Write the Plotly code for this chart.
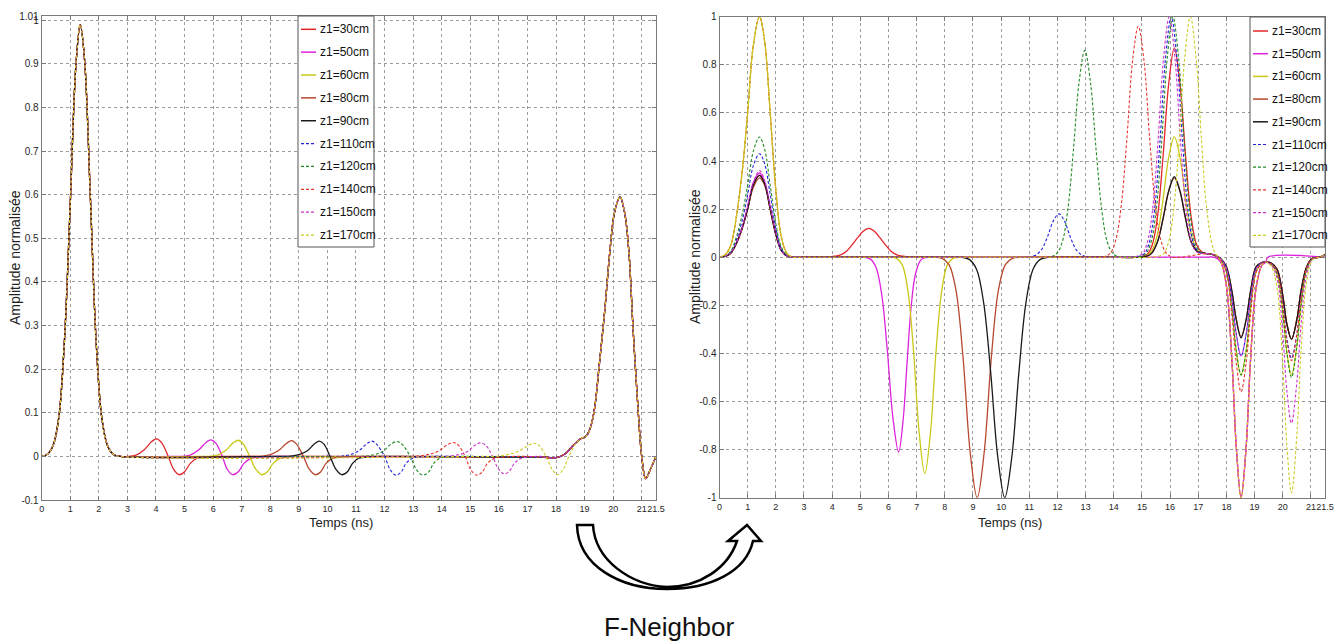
import plotly.graph_objects as go

# ---------------- data ----------------
LABELS = ["z1=30cm", "z1=50cm", "z1=60cm", "z1=80cm", "z1=90cm",
          "z1=110cm", "z1=120cm", "z1=140cm", "z1=150cm", "z1=170cm"]
COLORS = ["#e3262b", "#dd22dd", "#c9c91a", "#b5482e", "#1a1a1a",
          "#2222dd", "#228b22", "#e8352e", "#cc33cc", "#cccc22"]
DASHES = ["solid"] * 5 + ["3px,2px"] * 5

X_TICKS = [0, 1, 2, 3, 4, 5, 6, 7, 8, 9, 10, 11, 12, 13, 14, 15, 16, 17, 18, 19, 20, 21, 21.5]
X_TICK_TEXT = ["0", "1", "2", "3", "4", "5", "6", "7", "8", "9", "10", "11", "12", "13", "14",
               "15", "16", "17", "18", "19", "20", "21", "21.5"]
YL_TICKS = [-0.1, 0, 0.1, 0.2, 0.3, 0.4, 0.5, 0.6, 0.7, 0.8, 0.9, 1, 1.01]
YL_TICK_TEXT = ["-0.1", "0", "0.1", "0.2", "0.3", "0.4", "0.5", "0.6", "0.7", "0.8", "0.9", "1", "1.01"]
YR_TICKS = [-1, -0.8, -0.6, -0.4, -0.2, 0, 0.2, 0.4, 0.6, 0.8, 1]
YR_TICK_TEXT = ["-1", "-0.8", "-0.6", "-0.4", "-0.2", "0", "0.2", "0.4", "0.6", "0.8", "1"]

# ---- left panel (before F-Neighbor) ----
T_L_HEAD = [0, 0.2, 0.4, 0.6, 0.8, 1.0, 1.2, 1.35, 1.5, 1.7, 1.9, 2.1, 2.3, 2.5, 2.75]
V_L_HEAD = [0, 0.005, 0.025, 0.09, 0.27, 0.58, 0.9, 0.99, 0.91, 0.6, 0.27, 0.09, 0.025, 0.005, 0]
T_L_TAIL = [17.6, 18.0, 18.3, 18.6, 18.85, 19.05, 19.2, 19.35, 19.5, 19.7, 19.9, 20.05, 20.24,
            20.4, 20.55, 20.7, 20.88, 21.0, 21.14, 21.3, 21.5]
V_L_TAIL = [-0.002, -0.003, 0.005, 0.025, 0.04, 0.046, 0.065, 0.11, 0.2, 0.33, 0.48, 0.56, 0.595,
            0.56, 0.47, 0.29, 0.10, 0.0, -0.051, -0.03, 0.0]

W30_T = [3.0, 3.3, 3.6, 3.85, 4.02, 4.2, 4.43, 4.62, 4.8, 5.0, 5.2, 5.45, 5.8, 6.2, 6.55]
W30_V = [0, 0.003, 0.016, 0.034, 0.040, 0.031, 0, -0.030, -0.042, -0.035, -0.016, -0.004, -0.002, 0, 0]
W50_T = [4.5, 4.85, 5.2, 5.5, 5.75, 5.93, 6.1, 6.32, 6.5, 6.68, 6.88, 7.08, 7.35, 7.7, 8.1, 8.45]
W50_V = [0, 0, 0.003, 0.015, 0.032, 0.038, 0.030, 0, -0.030, -0.042, -0.035, -0.016, -0.004, -0.001, 0, 0]
W60_T = [5.45, 5.8, 6.15, 6.45, 6.7, 6.88, 7.05, 7.28, 7.5, 7.7, 7.9, 8.1, 8.35, 8.7, 9.1, 9.45]
W60_V = [0, 0, 0.003, 0.014, 0.031, 0.037, 0.029, 0, -0.030, -0.042, -0.035, -0.016, -0.004, -0.001, 0, 0]
W80_T = [7.25, 7.6, 8.0, 8.3, 8.57, 8.75, 8.92, 9.16, 9.37, 9.57, 9.77, 9.95, 10.2, 10.55, 11.0, 11.35]
W80_V = [0, 0, 0.004, 0.014, 0.030, 0.036, 0.028, 0, -0.030, -0.042, -0.035, -0.016, -0.004, -0.001, 0, 0]
W90_T = [8.25, 8.6, 9.0, 9.3, 9.55, 9.72, 9.88, 10.09, 10.3, 10.5, 10.7, 10.88, 11.1, 11.45, 11.9, 12.25]
W90_V = [0, 0, 0.004, 0.013, 0.029, 0.035, 0.028, 0, -0.030, -0.042, -0.035, -0.016, -0.004, -0.001, 0, 0]
W110_T = [10.05, 10.4, 10.8, 11.1, 11.38, 11.55, 11.72, 12.0, 12.2, 12.39, 12.58, 12.75, 13.0, 13.35, 13.8, 14.15]
W110_V = [0, 0, 0.004, 0.013, 0.029, 0.035, 0.028, 0, -0.031, -0.043, -0.036, -0.016, -0.004, -0.001, 0, 0]
W120_T = [10.85, 11.2, 11.65, 11.95, 12.22, 12.43, 12.62, 12.9, 13.12, 13.34, 13.54, 13.72, 13.95, 14.3, 14.7, 15.05]
W120_V = [0, 0, 0.004, 0.012, 0.028, 0.034, 0.027, 0, -0.031, -0.043, -0.036, -0.016, -0.004, -0.001, 0, 0]
W140_T = [12.65, 13.0, 13.5, 13.85, 14.18, 14.4, 14.58, 14.82, 15.02, 15.22, 15.42, 15.6, 15.85, 16.2, 16.6, 16.95]
W140_V = [0, 0, 0.004, 0.011, 0.026, 0.032, 0.026, 0, -0.031, -0.043, -0.036, -0.016, -0.004, -0.001, 0, 0]
W150_T = [13.85, 14.2, 14.6, 14.9, 15.15, 15.35, 15.55, 15.78, 15.98, 16.19, 16.38, 16.55, 16.8, 17.1, 17.45]
W150_V = [0, 0, 0.004, 0.011, 0.025, 0.031, 0.025, 0, -0.028, -0.040, -0.033, -0.015, -0.004, -0.001, 0]
W170_T = [15.45, 15.8, 16.3, 16.7, 17.0, 17.23, 17.42, 17.65, 17.85, 18.05, 18.25, 18.45, 18.7, 18.9, 19.05]
W170_V = [0, 0, 0.004, 0.012, 0.024, 0.030, 0.024, 0, -0.028, -0.042, -0.030, 0, 0.030, 0.042, 0.046]

# ---- right panel (after F-Neighbor) ----
T_R_HEAD = [0, 0.2, 0.4, 0.6, 0.8, 1.0, 1.2, 1.42, 1.6, 1.8, 2.0, 2.2, 2.4, 2.6, 2.9]
H_30 = [0, 0.003, 0.017, 0.058, 0.12, 0.2, 0.3, 0.34, 0.306, 0.2, 0.095, 0.027, 0.005, 0, 0]
H_50 = [0, 0.004, 0.018, 0.06, 0.12, 0.21, 0.31, 0.35, 0.315, 0.21, 0.1, 0.028, 0.005, 0, 0]
H_60 = [0, 0.01, 0.05, 0.17, 0.35, 0.6, 0.88, 1.0, 0.9, 0.6, 0.28, 0.08, 0.015, 0, 0]
H_80 = [0, 0.003, 0.016, 0.056, 0.115, 0.2, 0.29, 0.33, 0.3, 0.2, 0.092, 0.026, 0.005, 0, 0]
H_90 = [0, 0.003, 0.017, 0.058, 0.12, 0.2, 0.3, 0.34, 0.306, 0.2, 0.095, 0.027, 0.005, 0, 0]
H_110 = [0, 0.004, 0.021, 0.073, 0.15, 0.26, 0.38, 0.43, 0.39, 0.26, 0.12, 0.034, 0.006, 0, 0]
H_120 = [0, 0.005, 0.025, 0.085, 0.175, 0.3, 0.44, 0.5, 0.45, 0.3, 0.14, 0.04, 0.008, 0, 0]
H_140 = [0, 0.01, 0.05, 0.17, 0.35, 0.6, 0.88, 1.0, 0.9, 0.6, 0.28, 0.08, 0.015, 0, 0]
H_150 = [0, 0.004, 0.018, 0.06, 0.12, 0.21, 0.31, 0.36, 0.32, 0.21, 0.1, 0.028, 0.005, 0, 0]
H_170 = [0, 0.01, 0.05, 0.17, 0.35, 0.6, 0.88, 1.0, 0.9, 0.6, 0.28, 0.08, 0.015, 0, 0]

# target echoes
E30_T = [3.5, 3.8, 4.1, 4.3, 4.5, 4.7, 4.9, 5.1, 5.3, 5.5, 5.7, 5.9, 6.1, 6.3, 6.5, 6.8, 7.1]
E30_V = [0, 0, 0.004, 0.01, 0.024, 0.05, 0.08, 0.108, 0.12, 0.108, 0.08, 0.05, 0.024, 0.01, 0.004, 0, 0]
E50_T = [4.86, 5.16, 5.36, 5.56, 5.76, 5.96, 6.16, 6.36, 6.51, 6.66, 6.81, 6.96, 7.16, 7.4, 7.7]
E50_V = [0, 0, -0.008, -0.043, -0.155, -0.39, -0.67, -0.81, -0.69, -0.44, -0.2, -0.07, -0.01, 0, 0]
E60_T = [5.7, 6.0, 6.29, 6.49, 6.69, 6.89, 7.09, 7.29, 7.49, 7.69, 7.89, 8.09, 8.29, 8.6, 8.9]
E60_V = [0, 0, -0.005, -0.032, -0.14, -0.39, -0.73, -0.9, -0.73, -0.39, -0.14, -0.032, -0.005, 0, 0]
E80_T = [7.3, 7.6, 7.9, 8.15, 8.4, 8.65, 8.9, 9.15, 9.4, 9.65, 9.9, 10.15, 10.4, 10.7, 11.0]
E80_V = [0, 0, -0.005, -0.031, -0.14, -0.42, -0.81, -1.0, -0.81, -0.42, -0.14, -0.031, -0.005, 0, 0]
E90_T = [8.3, 8.6, 8.88, 9.13, 9.38, 9.63, 9.88, 10.13, 10.38, 10.63, 10.88, 11.13, 11.38, 11.7, 12.0]
E90_V = [0, 0, -0.01, -0.051, -0.19, -0.48, -0.83, -1.0, -0.83, -0.48, -0.19, -0.051, -0.01, 0, 0]
E110_T = [10.5, 10.8, 11.05, 11.25, 11.45, 11.65, 11.85, 12.05, 12.25, 12.45, 12.65, 12.85, 13.05, 13.3, 13.6]
E110_V = [0, 0, 0.002, 0.01, 0.034, 0.086, 0.15, 0.18, 0.15, 0.086, 0.034, 0.01, 0.002, 0, 0]
E120_T = [11.4, 11.7, 11.97, 12.17, 12.37, 12.57, 12.77, 12.97, 13.17, 13.37, 13.57, 13.77, 13.97, 14.2, 14.45]
E120_V = [0, 0, 0.015, 0.063, 0.2, 0.45, 0.73, 0.86, 0.73, 0.45, 0.2, 0.063, 0.015, 0, 0]
E140_T = [13.3, 13.6, 13.87, 14.07, 14.27, 14.47, 14.67, 14.87, 15.07, 15.27, 15.47, 15.67, 15.87, 16.1, 16.4]
E140_V = [0, 0, 0.016, 0.071, 0.22, 0.5, 0.82, 0.96, 0.82, 0.5, 0.22, 0.071, 0.016, 0, 0]

# late positive echoes near 16 ns
P30_T = [13.6, 13.9, 15.15, 15.35, 15.55, 15.75, 15.95, 16.15, 16.35, 16.55, 16.75, 16.95, 17.15]
P30_V = [0, 0, 0.009, 0.046, 0.165, 0.42, 0.72, 0.87, 0.72, 0.42, 0.165, 0.05, 0.02]
P60_T = [13.6, 13.9, 15.15, 15.35, 15.55, 15.75, 15.95, 16.15, 16.35, 16.55, 16.75, 16.95, 17.15]
P60_V = [0, 0, 0.005, 0.027, 0.095, 0.24, 0.415, 0.5, 0.415, 0.24, 0.095, 0.03, 0.018]
P80_T = [13.6, 13.9, 15.15, 15.35, 15.55, 15.75, 15.95, 16.15, 16.35, 16.55, 16.75, 16.95, 17.15]
P80_V = [0, 0, 0.003, 0.017, 0.063, 0.16, 0.275, 0.33, 0.275, 0.16, 0.063, 0.025, 0.018]
P90_T = [13.6, 13.9, 15.15, 15.35, 15.55, 15.75, 15.95, 16.15, 16.35, 16.55, 16.75, 16.95, 17.15]
P90_V = [0, 0, 0.003, 0.017, 0.063, 0.16, 0.275, 0.335, 0.275, 0.16, 0.063, 0.025, 0.018]
P110_T = [13.9, 14.2, 15.04, 15.24, 15.44, 15.64, 15.84, 16.04, 16.24, 16.44, 16.64, 16.84, 17.04]
P110_V = [0, 0, 0.01, 0.053, 0.19, 0.48, 0.83, 1.0, 0.83, 0.48, 0.19, 0.055, 0.02]
P120_T = [14.8, 15.1, 15.3, 15.5, 15.7, 15.9, 16.1, 16.3, 16.5, 16.7, 16.9, 17.1]
P120_V = [0, 0.01, 0.053, 0.19, 0.48, 0.83, 1.0, 0.83, 0.48, 0.19, 0.055, 0.02]
P150_T = [13.4, 13.7, 14.97, 15.17, 15.37, 15.57, 15.77, 15.97, 16.17, 16.37, 16.57, 16.77, 16.97]
P150_V = [0, 0, 0.01, 0.053, 0.19, 0.48, 0.83, 1.0, 0.83, 0.48, 0.19, 0.055, 0.02]
P170_T = [14.1, 14.4, 15.72, 15.92, 16.12, 16.32, 16.52, 16.72, 16.92, 17.12]
P170_V = [0, 0, 0.01, 0.053, 0.19, 0.48, 0.83, 1.0, 0.83, 0.48]

# late negative lobes (18.5 ns and 20.3 ns)
T_R_LATE = [17.3, 17.55, 17.8, 18.0, 18.2, 18.35, 18.52, 18.7, 18.85, 19.05, 19.25, 19.4,
            19.6, 19.8, 20.0, 20.15, 20.31, 20.5, 20.65, 20.85, 21.05, 21.3, 21.5]
LATE_30 = [0.015, 0.01, -0.02, -0.12, -0.44, -0.79, -1.0, -0.79, -0.44, -0.13, -0.035, -0.02,
           -0.025, -0.05, -0.16, -0.28, -0.34, -0.26, -0.14, -0.04, -0.005, 0, 0.01]
LATE_60 = [0.015, 0.01, -0.01, -0.06, -0.22, -0.39, -0.49, -0.39, -0.22, -0.06, -0.025, -0.02,
           -0.03, -0.07, -0.23, -0.4, -0.49, -0.37, -0.2, -0.05, -0.006, 0, 0.01]
LATE_80 = [0.015, 0.01, -0.006, -0.04, -0.145, -0.26, -0.33, -0.26, -0.145, -0.04, -0.022, -0.02,
           -0.025, -0.05, -0.16, -0.28, -0.34, -0.26, -0.14, -0.04, -0.005, 0, 0.01]
LATE_90 = [0.015, 0.01, -0.006, -0.04, -0.145, -0.26, -0.335, -0.26, -0.145, -0.04, -0.022, -0.02,
           -0.025, -0.05, -0.16, -0.28, -0.34, -0.26, -0.14, -0.04, -0.005, 0, 0.01]
LATE_110 = [0.015, 0.01, -0.008, -0.047, -0.18, -0.32, -0.41, -0.32, -0.18, -0.05, -0.024, -0.02,
            -0.028, -0.06, -0.19, -0.34, -0.42, -0.32, -0.17, -0.045, -0.006, 0, 0.01]
LATE_120 = [0.015, 0.01, -0.01, -0.06, -0.22, -0.39, -0.49, -0.39, -0.22, -0.06, -0.025, -0.02,
            -0.03, -0.07, -0.23, -0.4, -0.5, -0.37, -0.2, -0.05, -0.006, 0, 0.01]
LATE_140 = [0.015, 0.01, -0.01, -0.065, -0.25, -0.44, -0.56, -0.44, -0.25, -0.065, -0.027, -0.02,
            -0.028, -0.06, -0.2, -0.35, -0.43, -0.32, -0.17, -0.045, -0.006, 0, 0.01]
LATE_150 = [0.015, 0.01, -0.008, -0.047, -0.18, -0.32, -0.41, -0.32, -0.18, -0.05, -0.024, -0.02,
            -0.034, -0.09, -0.32, -0.56, -0.69, -0.52, -0.28, -0.07, -0.009, 0, 0.01]
LATE_170 = [0.2, 0.03, -0.02, -0.12, -0.44, -0.79, -1.0, -0.79, -0.44, -0.13, -0.035, -0.02,
            -0.04, -0.13, -0.45, -0.79, -0.98, -0.74, -0.39, -0.1, -0.012, 0, 0.01]
LATE50_T = [17.3, 17.55, 17.8, 18.0, 18.2, 18.35, 18.52, 18.7, 18.85, 19.05, 19.25, 19.4, 19.47, 21.5]
LATE50_V = [0, 0, -0.02, -0.12, -0.44, -0.79, -1.0, -0.79, -0.44, -0.13, -0.035, -0.02, 0, 0]

# ---------------- assemble series ----------------
TAIL170_T = [t for t in T_L_TAIL if t >= 19.2]
TAIL170_V = [v for t, v in zip(T_L_TAIL, V_L_TAIL) if t >= 19.2]

left_series = [
    (T_L_HEAD + W30_T + T_L_TAIL, V_L_HEAD + W30_V + V_L_TAIL),
    (T_L_HEAD + W50_T + T_L_TAIL, V_L_HEAD + W50_V + V_L_TAIL),
    (T_L_HEAD + W60_T + T_L_TAIL, V_L_HEAD + W60_V + V_L_TAIL),
    (T_L_HEAD + W80_T + T_L_TAIL, V_L_HEAD + W80_V + V_L_TAIL),
    (T_L_HEAD + W90_T + T_L_TAIL, V_L_HEAD + W90_V + V_L_TAIL),
    (T_L_HEAD + W110_T + T_L_TAIL, V_L_HEAD + W110_V + V_L_TAIL),
    (T_L_HEAD + W120_T + T_L_TAIL, V_L_HEAD + W120_V + V_L_TAIL),
    (T_L_HEAD + W140_T + T_L_TAIL, V_L_HEAD + W140_V + V_L_TAIL),
    (T_L_HEAD + W150_T + T_L_TAIL, V_L_HEAD + W150_V + V_L_TAIL),
    (T_L_HEAD + W170_T + TAIL170_T, V_L_HEAD + W170_V + TAIL170_V),
]

right_series = [
    (T_R_HEAD + E30_T + P30_T + T_R_LATE, H_30 + E30_V + P30_V + LATE_30),
    (T_R_HEAD + E50_T + LATE50_T, H_50 + E50_V + LATE50_V),
    (T_R_HEAD + E60_T + P60_T + T_R_LATE, H_60 + E60_V + P60_V + LATE_60),
    (T_R_HEAD + E80_T + P80_T + T_R_LATE, H_80 + E80_V + P80_V + LATE_80),
    (T_R_HEAD + E90_T + P90_T + T_R_LATE, H_90 + E90_V + P90_V + LATE_90),
    (T_R_HEAD + E110_T + P110_T + T_R_LATE, H_110 + E110_V + P110_V + LATE_110),
    (T_R_HEAD + E120_T + P120_T + T_R_LATE, H_120 + E120_V + P120_V + LATE_120),
    (T_R_HEAD + E140_T + T_R_LATE, H_140 + E140_V + LATE_140),
    (T_R_HEAD + P150_T + T_R_LATE, H_150 + P150_V + LATE_150),
    (T_R_HEAD + P170_T + T_R_LATE, H_170 + P170_V + LATE_170),
]

# ---------------- figure ----------------
W, H = 1335, 641


def px(x):
    return x / W


def py(y):
    return 1 - y / H


def P(x, y):
    return f"{px(x):.5f},{py(y):.5f}"


FONT = "Liberation Sans, Arial, sans-serif"

fig = go.Figure()

for i, (t, v) in enumerate(left_series):
    fig.add_trace(go.Scatter(
        x=t, y=v, mode="lines", name=LABELS[i], showlegend=False,
        line=dict(color=COLORS[i], width=1.3 if i < 5 else 1.1, dash=DASHES[i],
                  shape="spline", smoothing=1.0),
        xaxis="x", yaxis="y"))

for i, (t, v) in enumerate(right_series):
    fig.add_trace(go.Scatter(
        x=t, y=v, mode="lines", name=LABELS[i], showlegend=False,
        line=dict(color=COLORS[i], width=1.3 if i < 5 else 1.1, dash=DASHES[i],
                  shape="spline", smoothing=1.0),
        xaxis="x2", yaxis="y2"))

axis_common = dict(
    showgrid=True, gridcolor="#9c9c9c", griddash="dot", gridwidth=1,
    showline=True, mirror="ticks", linecolor="#7a7a7a", linewidth=1,
    ticks="inside", ticklen=4, tickcolor="#7a7a7a", zeroline=False, tickangle=0,
    ticklabeloverflow="allow", automargin=False,
)
XFONT = dict(family=FONT, size=9, color="#262626")
YFONT = dict(family=FONT, size=10, color="#262626")

fig.update_layout(
    width=W, height=H,
    margin=dict(l=0, r=0, t=0, b=0),
    paper_bgcolor="white", plot_bgcolor="white",
    xaxis=dict(domain=[px(41.7), px(656)], range=[0, 21.5], anchor="y", tickfont=XFONT,
               tickmode="array", tickvals=X_TICKS, ticktext=X_TICK_TEXT, **axis_common),
    yaxis=dict(domain=[py(500), py(16)], range=[-0.1, 1.01], anchor="x", tickfont=YFONT,
               tickmode="array", tickvals=YL_TICKS, ticktext=YL_TICK_TEXT, **axis_common),
    xaxis2=dict(domain=[px(719.5), px(1325)], range=[0, 21.5], anchor="y2", tickfont=XFONT,
                tickmode="array", tickvals=X_TICKS, ticktext=X_TICK_TEXT, **axis_common),
    yaxis2=dict(domain=[py(497.7), py(16.7)], range=[-1, 1], anchor="x2", tickfont=YFONT,
                tickmode="array", tickvals=YR_TICKS, ticktext=YR_TICK_TEXT, **axis_common),
)

annotations = []
shapes = []

# axis titles
for xc, yc in [(15, 258), (695, 257)]:
    annotations.append(dict(x=px(xc), y=py(yc), xref="paper", yref="paper",
                            text="Amplitude normalisée", showarrow=False, textangle=-90,
                            font=dict(family=FONT, size=14, color="#222222"),
                            xanchor="center", yanchor="middle"))
for xc in [341, 1010]:
    annotations.append(dict(x=px(xc), y=py(522), xref="paper", yref="paper",
                            text="Temps (ns)", showarrow=False,
                            font=dict(family=FONT, size=13, color="#222222"),
                            xanchor="center", yanchor="middle"))

# legends (boxes with line samples and real text)
for (bx0, by0, bx1, by1, first_y, step, lx0, lx1, tx) in [
        (298, 16, 374, 247, 29.3, 22.86, 301, 316, 317.5),
        (1250, 17, 1325, 247, 31.0, 22.7, 1253, 1268, 1269.5)]:
    shapes.append(dict(type="rect", xref="paper", yref="paper",
                       x0=px(bx0), x1=px(bx1), y0=py(by1), y1=py(by0),
                       line=dict(color="#555555", width=1), fillcolor="white", layer="above"))
    for i, lab in enumerate(LABELS):
        yy = first_y + i * step
        shapes.append(dict(type="line", xref="paper", yref="paper",
                           x0=px(lx0), x1=px(lx1), y0=py(yy), y1=py(yy),
                           line=dict(color=COLORS[i], width=1.5 if i < 5 else 1.2,
                                     dash="solid" if i < 5 else "3px,2px"),
                           layer="above"))
        annotations.append(dict(x=px(tx), y=py(yy), xref="paper", yref="paper",
                                text=lab, showarrow=False, xanchor="left", yanchor="middle",
                                font=dict(family=FONT, size=12, color="#111111")))

# curved arrow between the panels
arrow_path = ("M " + P(577, 525) + " L " + P(593, 525) +
              " C " + P(595, 560) + " " + P(630, 585) + " " + P(667, 587) +
              " C " + P(700, 587) + " " + P(728, 568) + " " + P(737, 541) +
              " L " + P(728, 541) + " L " + P(747, 525) + " L " + P(761, 541) +
              " L " + P(753, 541) +
              " C " + P(746, 572) + " " + P(710, 589) + " " + P(667, 589) +
              " C " + P(620, 589) + " " + P(578, 566) + " " + P(577, 525) + " Z")
shapes.append(dict(type="path", xref="paper", yref="paper", path=arrow_path,
                   line=dict(color="black", width=2.5), fillcolor="white"))

annotations.append(dict(x=px(669), y=py(627), xref="paper", yref="paper",
                        text="F-Neighbor", showarrow=False, xanchor="center", yanchor="middle",
                        font=dict(family=FONT, size=26, color="#111111")))

fig.update_layout(annotations=annotations, shapes=shapes)

fig.write_html("out.html", config={"displayModeBar": False},
               post_script="document.body.style.margin='0';document.body.style.overflow='hidden';")
